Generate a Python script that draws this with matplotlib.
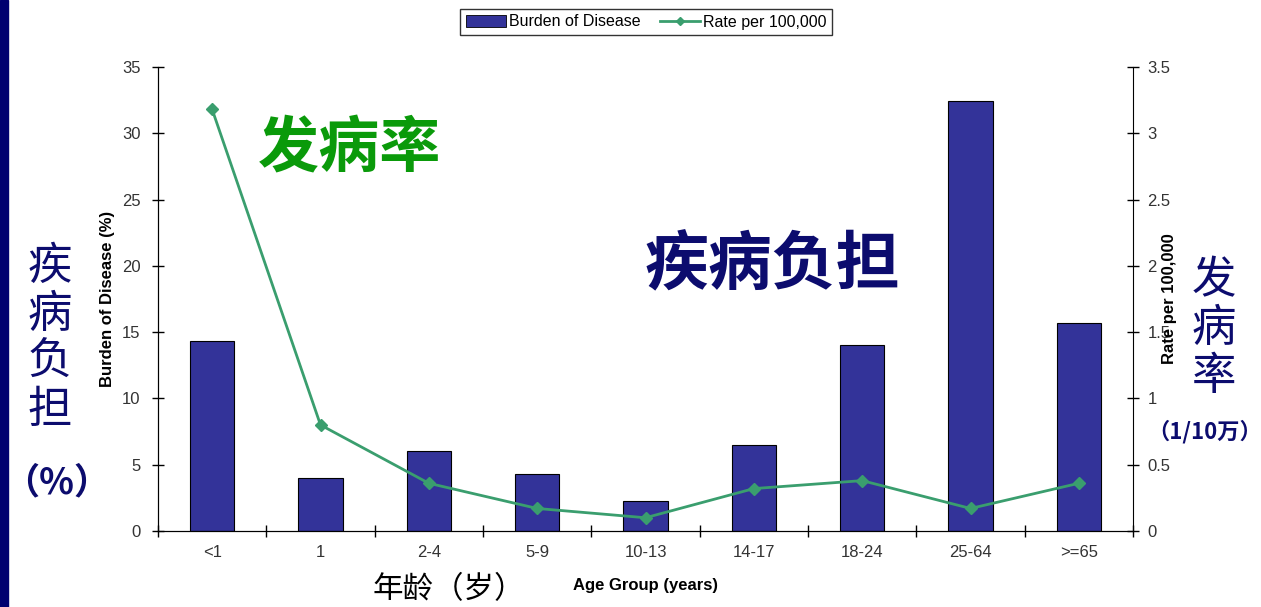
import matplotlib
matplotlib.use('Agg')
import matplotlib.pyplot as plt
from matplotlib.patches import Rectangle
from matplotlib.lines import Line2D

# Burden of disease (%) and incidence rate per 100,000 by age group
age_groups = ['<1', '1', '2-4', '5-9', '10-13', '14-17', '18-24', '25-64', '>=65']
burden = [14.3, 4.0, 6.0, 4.3, 2.3, 6.5, 14.0, 32.4, 15.7]
rate = [3.18, 0.80, 0.36, 0.17, 0.10, 0.32, 0.38, 0.17, 0.36]

bar_color = '#333399'
line_color = '#3a9e6e'
navy = '#0c0c6e'
cjk = ['Noto Sans CJK SC', 'DejaVu Sans']
latin = ['Liberation Sans Narrow', 'Liberation Sans', 'DejaVu Sans']

fig = plt.figure(figsize=(12.61, 6.07), dpi=100)
fig.patches.append(Rectangle((0, 0), 8 / 1261, 1, transform=fig.transFigure,
                             color='#000070', zorder=0))

ax = fig.add_axes([0.1253, 0.1252, 0.7732, 0.7644])
x = list(range(len(age_groups)))
ax.bar(x, burden, width=0.41, color=bar_color, edgecolor='black', linewidth=0.8, zorder=2)
ax.set_xlim(-0.5, len(age_groups) - 0.5)
ax.set_ylim(0, 35)
ax.set_yticks(range(0, 36, 5))
ax.set_xticks([i + 0.5 for i in range(-1, len(age_groups))])
ax.set_xticklabels([])
ax.set_xticks(x, minor=True)
ax.set_xticklabels(age_groups, minor=True, family=latin, fontsize=12, color='#333333')
ax.tick_params(axis='x', which='minor', length=0, pad=10)
ax.tick_params(axis='x', which='major', direction='inout', length=9, width=1)
ax.tick_params(axis='y', direction='inout', length=9, width=1, labelsize=12,
               labelcolor='#333333', pad=8)
for lab in ax.get_yticklabels():
    lab.set_family(latin)
ax.spines['top'].set_visible(False)
ax.spines['right'].set_visible(False)
ax.set_ylabel('Burden of Disease (%)', family=latin, fontweight='bold', fontsize=12, labelpad=5)
ax.set_xlabel('Age Group (years)', family=latin, fontweight='bold', fontsize=12, labelpad=13,
              x=0.5)

ax2 = ax.twinx()
ax2.plot(x, rate, color=line_color, linewidth=2, marker='D', markersize=6, zorder=3)
ax2.set_ylim(0, 3.5)
ax2.set_yticks([0, 0.5, 1, 1.5, 2, 2.5, 3, 3.5])
ax2.set_yticklabels(['0', '0.5', '1', '1.5', '2', '2.5', '3', '3.5'])
ax2.tick_params(axis='y', direction='inout', length=9, width=1, labelsize=12,
                labelcolor='#333333', pad=6)
for lab in ax2.get_yticklabels():
    lab.set_family(latin)
ax2.spines['top'].set_visible(False)
ax2.set_ylabel('Rate per 100,000', family=latin, fontweight='bold', fontsize=12, labelpad=-6)

handles = [Rectangle((0, 0), 1, 1, facecolor=bar_color, edgecolor='black', linewidth=0.6),
           Line2D([], [], color=line_color, linewidth=2, marker='D', markersize=4)]
leg = fig.legend(handles, ['Burden of Disease', 'Rate per 100,000'], loc='center',
                 bbox_to_anchor=(646 / 1261, 1 - 22 / 607), ncol=2, frameon=True,
                 fancybox=False, edgecolor='black', prop={'family': latin, 'size': 11.5},
                 handlelength=2.5, columnspacing=1.2, handletextpad=0.2, borderpad=0.35)
leg.get_frame().set_linewidth(1)

# Chinese annotations
fig.text(350 / 1261, 1 - 150 / 607, '发病率', family=cjk, fontsize=44, fontweight='bold',
         color='#0a9a0a', ha='center', va='center')
fig.text(772 / 1261, 1 - 266 / 607, '疾病负担', family=cjk, fontsize=46, fontweight='bold',
         color=navy, ha='center', va='center')
fig.text(50 / 1261, 1 - 338 / 607, '疾\n病\n负\n担', family=cjk, fontsize=32,
         color=navy, ha='center', va='center', linespacing=1.05)
fig.text(57 / 1261, 1 - 483 / 607, '（%）', family=cjk, fontsize=26, fontweight='bold',
         color=navy, ha='center', va='center')
fig.text(1214 / 1261, 1 - 328 / 607, '发\n病\n率', family=cjk, fontsize=32,
         color=navy, ha='center', va='center', linespacing=1.05)
fig.text(1205 / 1261, 1 - 432 / 607, '（1/10万）', family=cjk, fontsize=16, fontweight='bold',
         color=navy, ha='center', va='center')
fig.text(449 / 1261, 1 - 590 / 607, '年龄（岁）', family=cjk, fontsize=22,
         color='black', ha='center', va='center')

fig.savefig('out.png', dpi=100)
